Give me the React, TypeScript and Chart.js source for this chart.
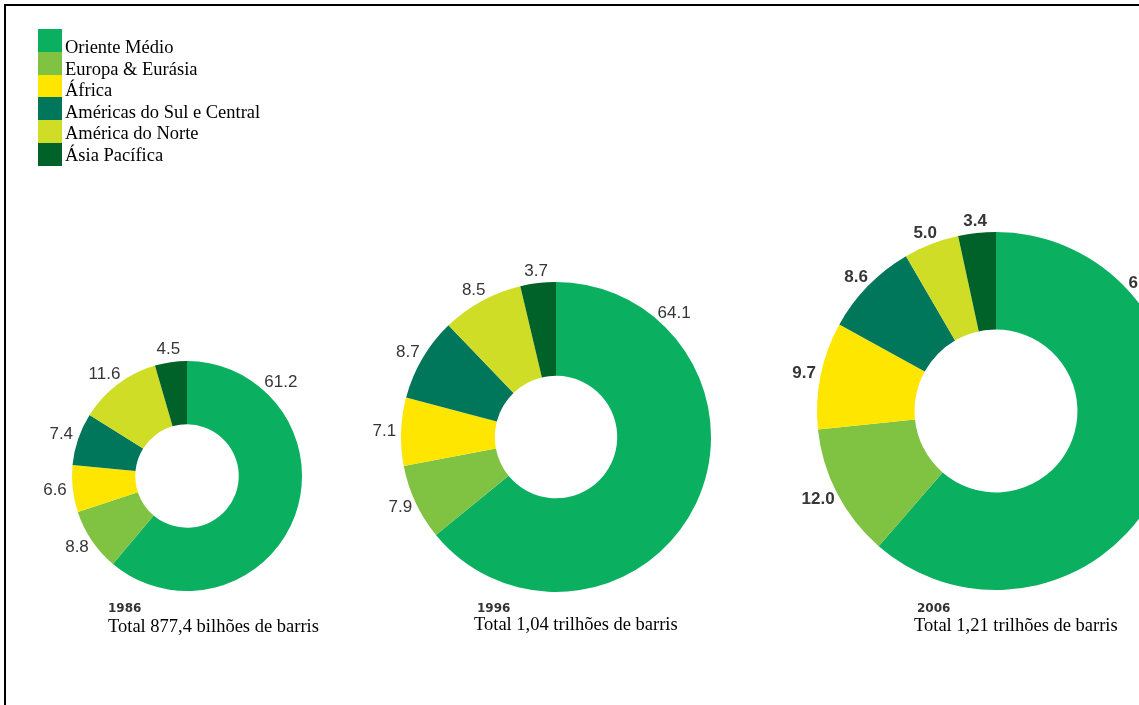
import React, { useEffect, useRef } from "react";
import { Chart, registerables } from "chart.js";

Chart.register(...registerables);

const regions = [
  "Oriente Médio",
  "Europa & Eurásia",
  "África",
  "Américas do Sul e Central",
  "América do Norte",
  "Ásia Pacífica",
];
const regionColors = ["#0baf60", "#80c242", "#ffe600", "#00765b", "#cfdd27", "#006228"];

const values1986 = [61.2, 8.8, 6.6, 7.4, 11.6, 4.5];
const values1996 = [64.1, 7.9, 7.1, 8.7, 8.5, 3.7];
const values2006 = [61.5, 12.0, 9.7, 8.6, 5.0, 3.4];

const years = ["1986", "1996", "2006"];
const totals = [
  "Total 877,4 bilhões de barris",
  "Total 1,04 trilhões de barris",
  "Total 1,21 trilhões de barris",
];

const W = 1139;
const H = 705;

type DonutProps = {
  values: number[];
  year: string;
  total: string;
  cx: number;
  cy: number;
  radius: number;
  cutout: string;
  labelGap: number;
  firstAngle: number;
  bold: boolean;
  totalBaseline: number;
  totalDx: number;
  legend?: boolean;
};

function Donut(p: DonutProps) {
  const ref = useRef<HTMLCanvasElement>(null);
  useEffect(() => {
    if (!ref.current) return;
    const half = 10;
    const textPlugin = {
      id: "donutText",
      afterDraw(chart: any) {
        const ctx = chart.ctx as CanvasRenderingContext2D;
        const meta = chart.getDatasetMeta(0);
        ctx.save();
        // slice labels, placed just outside each slice
        ctx.fillStyle = "#363636";
        ctx.font = `${p.bold ? "bold " : ""}17px "Liberation Sans", Arial, sans-serif`;
        ctx.textAlign = "center";
        ctx.textBaseline = "middle";
        const th = 14;
        let cX = 0;
        meta.data.forEach((arc: any, i: number) => {
          const { x, y, startAngle, endAngle, outerRadius } = arc.getProps(
            ["x", "y", "startAngle", "endAngle", "outerRadius"],
            true
          );
          cX = x;
          let a = (startAngle + endAngle) / 2;
          if (i === 0) a = -Math.PI / 2 + (p.firstAngle * Math.PI) / 180;
          const v = chart.data.datasets[0].data[i] as number;
          const txt = v.toFixed(1);
          const tw = ctx.measureText(txt).width;
          const d = outerRadius + p.labelGap;
          const ca = Math.cos(a);
          const sa = Math.sin(a);
          const lx = x + ca * d + (tw / 2) * ca;
          const ly = y + sa * d + (th / 2) * sa;
          ctx.fillText(txt, lx, ly);
        });
        // captions
        ctx.textAlign = "left";
        ctx.textBaseline = "alphabetic";
        ctx.fillStyle = "#333";
        ctx.font = 'bold 12px "DejaVu Sans", sans-serif';
        ctx.fillText(p.year, cX - 79, 612);
        ctx.fillStyle = "#000";
        ctx.font = '18.5px "Liberation Serif", "Times New Roman", serif';
        ctx.fillText(p.total, cX + p.totalDx, p.totalBaseline);

        // legend
        if (p.legend) {
          const labels = chart.data.labels as string[];
          const colors = chart.data.datasets[0].backgroundColor as string[];
          labels.forEach((lab, i) => {
            const top = Math.round(29 + i * 22.8);
            const bottom = Math.round(29 + (i + 1) * 22.8);
            ctx.fillStyle = colors[i];
            ctx.fillRect(38, top, 24, bottom - top);
            ctx.fillStyle = "#000";
            ctx.font = '18.5px "Liberation Serif", "Times New Roman", serif';
            ctx.fillText(lab, 65, 53 + i * 21.5);
          });
        }
        ctx.restore();
      },
    };
    const chart = new Chart(ref.current, {
      type: "doughnut",
      data: {
        labels: regions,
        datasets: [
          {
            data: p.values,
            backgroundColor: regionColors,
            borderWidth: 0,
          },
        ],
      },
      options: {
        responsive: false,
        animation: false,
        devicePixelRatio: 1,
        radius: p.radius,
        cutout: p.cutout,
        rotation: 0,
        layout: {
          padding: {
            left: p.cx - half,
            right: W - p.cx - half,
            top: p.cy - half,
            bottom: H - p.cy - half,
          },
        },
        plugins: {
          legend: { display: false },
          tooltip: { enabled: false },
          title: { display: false },
        },
        events: [],
      } as any,
      plugins: [textPlugin],
    });
    return () => chart.destroy();
  }, []);
  return (
    <canvas
      ref={ref}
      width={W}
      height={H}
      style={{ position: "absolute", left: 0, top: 0, width: W, height: H }}
    />
  );
}

export default function App() {
  return (
    <div
      style={{
        position: "absolute",
        left: 0,
        top: 0,
        width: W,
        height: H,
        overflow: "hidden",
        background: "#fff",
      }}
    >
      <div
        style={{
          position: "absolute",
          left: 4,
          top: 4,
          width: 3000,
          height: 3000,
          border: "2px solid #000",
        }}
      />
      <Donut
        values={values1986}
        year={years[0]}
        total={totals[0]}
        cx={187}
        cy={476}
        radius={115}
        cutout="45%"
        labelGap={6}
        firstAngle={43}
        bold={false}
        totalBaseline={632}
        totalDx={-79}
        legend
      />
      <Donut
        values={values1996}
        year={years[1]}
        total={totals[1]}
        cx={556}
        cy={437}
        radius={155}
        cutout="39.5%"
        labelGap={5}
        firstAngle={42}
        bold={false}
        totalBaseline={630}
        totalDx={-82}
      />
      <Donut
        values={values2006}
        year={years[2]}
        total={totals[2]}
        cx={996}
        cy={411}
        radius={179}
        cutout="45.5%"
        labelGap={5}
        firstAngle={48}
        bold={true}
        totalBaseline={631}
        totalDx={-82}
      />
    </div>
  );
}
